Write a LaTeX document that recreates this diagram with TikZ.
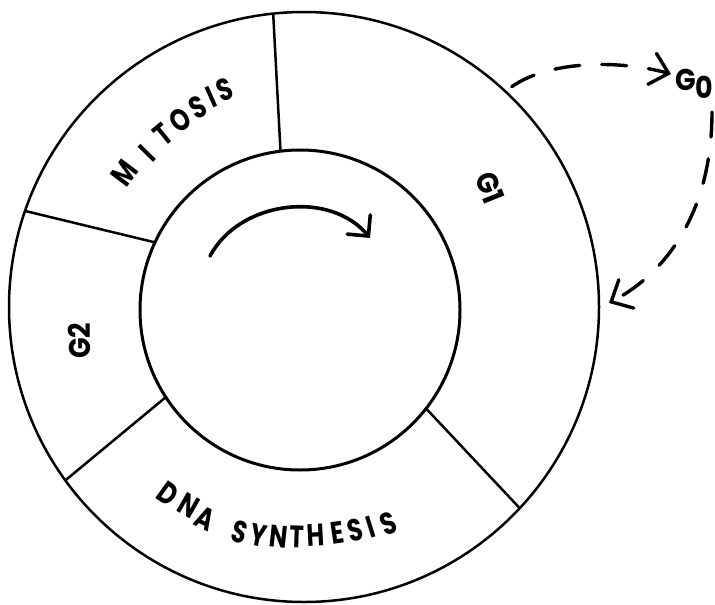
\documentclass[tikz,border=0pt]{standalone}
\usepackage{fontspec}
\setmainfont{Poppins}
\usetikzlibrary{arrows.meta}
\newcommand\narrowch[1]{\scalebox{0.78}[1]{#1}}
\newcommand\labelch[1]{\scalebox{0.9}[1]{#1}}
\begin{document}
\begin{tikzpicture}[x=1pt,y=-1pt,
  ring/.style={draw, circle, inner sep=0pt, outer sep=0pt},
  divider/.style={line width=2.5pt},
  lett/.style={inner sep=0pt, font=\bfseries\fontsize{31}{31}\selectfont},
  glabel/.style={inner sep=0pt, font=\bfseries\fontsize{30}{30}\selectfont},
  dasharrow/.style={line width=3.4pt, line cap=round, dash pattern=on 25pt off 22pt, -{Straight Barb[length=17pt,width=32pt,line cap=round]}},
  cyclearrow/.style={line width=3.6pt, line cap=round, -{Straight Barb[length=15pt,width=30pt,line cap=round]}}]
\useasboundingbox (0,0) rectangle (715,605);
\fill[white] (0,0) rectangle (715,605);
% rings
\node[ring, line width=2.5pt, minimum size=590pt] (outer) at (304,307) {};
\node[ring, line width=3pt, minimum size=320pt] (inner) at (300,310) {};
% dividers
\draw[divider] (outer.96.6) -- (inner.97.9);
\draw[divider] (outer.161) -- (inner.155);
\draw[divider] (outer.216) -- (inner.213.7);
\draw[divider] (outer.-43) -- (inner.-38);
% MITOSIS
\foreach \ch/\px/\py/\rot [count=\i] in {M/124/173/53, I/147/153/45.6, T/163/135/39.2, O/180/120/34, S/198/107/28.1, I/211/97/24, S/225/90/20.2}
  \node[lett, rotate=\rot] (mit\i) at (\px,\py) {\narrowch{\ch}};
% DNA SYNTHESIS
\foreach \ch/\px/\py/\rot [count=\i] in {D/168/494/-35.8, N/189/506/-29.8, A/205/519/-25.6, S/240/532/-16.1, Y/259/535/-11.2, N/279/537/-6.2, T/297/537/-2, H/316/535/3, E/337/533/8.3, S/355/530/13.1, I/371/527/17.2, S/388/524/21.3}
  \node[lett, rotate=\rot] (dna\i) at (\px,\py) {\narrowch{\ch}};
% phase labels
\node[glabel, rotate=-68] (g1) at (490,188) {\labelch{G1}};
\node[glabel, rotate=90] (g2) at (79,341) {\labelch{G2}};
\node[glabel, anchor=west] (g0) at (675,84) {\labelch{G\raisebox{-8pt}{0}}};
% connectors
\coordinate (g0in) at (671,74);
\coordinate (g0out) at (712,112);
\coordinate (g1in) at (609,303);
\draw[dasharrow, shorten <=8pt] (outer.47.5) .. controls (550,60) and (620,60) .. (g0in);
\draw[dasharrow] (g0out) .. controls (712,210) and (668,272) .. (g1in);
% cycle arrow
\coordinate (cs) at (210,256);
\coordinate (ce) at (370,238);
\draw[cyclearrow] (cs) .. controls (240,200) and (330,190) .. (ce);
\end{tikzpicture}
\end{document}
